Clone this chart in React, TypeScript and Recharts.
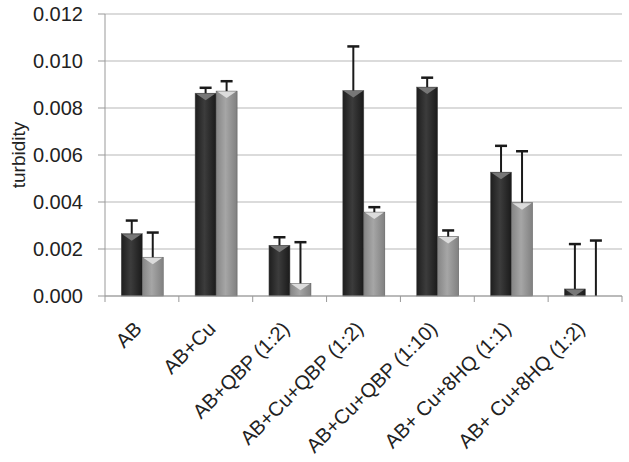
import { Bar, BarChart, CartesianGrid, XAxis, YAxis } from "recharts";

const CATEGORIES = [
  "AB",
  "AB+Cu",
  "AB+QBP (1:2)",
  "AB+Cu+QBP (1:2)",
  "AB+Cu+QBP (1:10)",
  "AB+ Cu+8HQ (1:1)",
  "AB+ Cu+8HQ (1:2)",
];
const DARK = [0.00265, 0.00863, 0.00216, 0.00874, 0.00889, 0.00527, 0.0003];
const DARK_ERR = [0.00056, 0.00023, 0.00034, 0.00188, 0.0004, 0.00112, 0.00191];
const LIGHT = [0.00165, 0.00872, 0.00054, 0.00357, 0.00253, 0.00397, 0];
const LIGHT_ERR = [0.00105, 0.00042, 0.00175, 0.00021, 0.00026, 0.00219, 0.00236];
const Y_TICKS = [0, 0.002, 0.004, 0.006, 0.008, 0.01, 0.012];
const Y_MAX = 0.012;

const data = CATEGORIES.map((name, i) => ({
  name,
  dark: DARK[i],
  darkErr: DARK_ERR[i],
  light: LIGHT[i],
  lightErr: LIGHT_ERR[i],
}));

const FONT = "'Liberation Sans', Arial, sans-serif";

// bar with excel-ish bevel + a one-sided (upper) error whisker
function makeShape(gradId: string, tri: string, errKey: "darkErr" | "lightErr") {
  return (props: any) => {
    const { x, y, width, height, background, payload } = props;
    const pxPerUnit = background && background.height ? background.height / Y_MAX : 0;
    const err = payload[errKey] * pxPerUnit;
    const cx = x + width / 2;
    const top = y;
    const h = Math.max(height, 0);
    return (
      <g>
        {h > 0 && (
          <>
            <rect x={x} y={top} width={width} height={h} fill={`url(#${gradId})`} stroke="#555" strokeWidth={0.5} />
            <polygon
              points={`${x + 1},${top + 0.5} ${x + width - 1},${top + 0.5} ${cx},${top + Math.min(7, h)}`}
              fill={tri}
            />
          </>
        )}
        {err > 0 && (
          <>
            <line x1={cx} x2={cx} y1={top} y2={top - err} stroke="#1a1a1a" strokeWidth={2} />
            <line x1={cx - 6} x2={cx + 6} y1={top - err} y2={top - err} stroke="#1a1a1a" strokeWidth={2.5} />
          </>
        )}
      </g>
    );
  };
}

const XTick = (props: any) => {
  const { x, y, payload, index } = props;
  const off = payload.offset ?? 0;
  const last = index === CATEGORIES.length - 1;
  return (
    <g>
      <line x1={x - off} x2={x - off} y1={y - 8} y2={y - 2} stroke="#999" />
      {last && <line x1={x + off} x2={x + off} y1={y - 8} y2={y - 2} stroke="#999" />}
      <text
        x={x + 1}
        y={y + 26}
        transform={`rotate(-45 ${x + 1} ${y + 26})`}
        textAnchor="end"
        fontSize={20}
        fontFamily={FONT}
        fill="#222"
      >
        {payload.value}
      </text>
    </g>
  );
};

const YTick = (props: any) => {
  const { x, y, payload } = props;
  return (
    <text x={x} y={y} dy={7} textAnchor="end" fontSize={20} fontFamily={FONT} fill="#222">
      {Number(payload.value).toFixed(3)}
    </text>
  );
};

export default function App() {
  return (
    <div style={{ position: "absolute", left: 0, top: 0, background: "#fff" }}>
      <BarChart
        width={629}
        height={462}
        data={data}
        margin={{ top: 14, right: 7, bottom: 0, left: 0 }}
        barCategoryGap="22%"
        barGap={0}
      >
        <defs>
          <linearGradient id="gDark" x1="0" x2="1" y1="0" y2="0">
            <stop offset="0" stopColor="#1e1e1e" />
            <stop offset="0.45" stopColor="#3c3c3c" />
            <stop offset="1" stopColor="#1a1a1a" />
          </linearGradient>
          <linearGradient id="gLight" x1="0" x2="1" y1="0" y2="0">
            <stop offset="0" stopColor="#858585" />
            <stop offset="0.45" stopColor="#a6a6a6" />
            <stop offset="1" stopColor="#808080" />
          </linearGradient>
        </defs>
        <CartesianGrid vertical={false} stroke="#cfcfcf" strokeWidth={1.5} />
        <XAxis
          dataKey="name"
          interval={0}
          height={166}
          stroke="#999"
          tickLine={false}
          tick={<XTick />}
        />
        <YAxis
          domain={[0, Y_MAX]}
          ticks={Y_TICKS}
          width={105}
          stroke="#999"
          tickSize={7}
          tickMargin={15}
          tick={<YTick />}
          label={{
            value: "turbidity",
            angle: -90,
            position: "insideLeft",
            offset: 18,
            style: { fontSize: 19, fontFamily: FONT, fill: "#222", textAnchor: "middle" },
          }}
        />
        <Bar dataKey="dark" isAnimationActive={false} shape={makeShape("gDark", "#777", "darkErr")} />
        <Bar dataKey="light" isAnimationActive={false} shape={makeShape("gLight", "#dcdcdc", "lightErr")} />
      </BarChart>
    </div>
  );
}
